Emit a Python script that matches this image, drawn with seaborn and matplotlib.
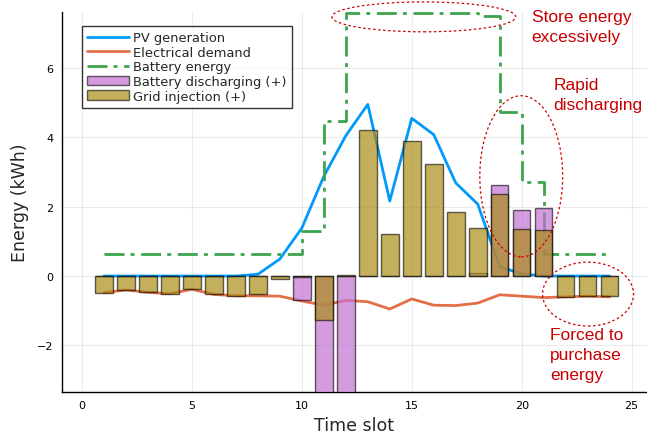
import numpy as np
import pandas as pd
import matplotlib
matplotlib.use("Agg")
import matplotlib.pyplot as plt
from matplotlib.patches import Ellipse
from matplotlib.colors import to_rgb
import seaborn as sns

slots = list(range(1, 25))
pv = [0, 0, 0, 0, 0, 0, 0, 0.05, 0.49, 1.38, 2.87, 4.04, 4.94, 2.16, 4.54, 4.07,
      2.68, 2.07, 0.27, 0.06, 0, 0, 0, 0]
demand = [-0.48, -0.40, -0.47, -0.51, -0.38, -0.53, -0.57, -0.57, -0.58, -0.72, -0.84, -0.70,
          -0.74, -0.95, -0.66, -0.84, -0.85, -0.78, -0.54, -0.58, -0.62, -0.60, -0.58, -0.60]
battery_energy = [0.63, 0.63, 0.63, 0.63, 0.63, 0.63, 0.63, 0.63, 0.63, 1.29, 4.45, 7.57,
                  7.57, 7.57, 7.57, 7.57, 7.57, 7.48, 4.72, 2.71, 0.63, 0.63, 0.63, 0.63]
battery_dis = [0, 0, 0, 0, 0, 0, 0, 0, 0, -0.69, -3.45, -3.40,
               0, 0, 0, 0, 0, 0.08, 2.62, 1.90, 1.96, 0, 0, 0]
grid_inj = [-0.48, -0.40, -0.47, -0.51, -0.38, -0.53, -0.57, -0.52, -0.09, -0.03, -1.27, 0.03,
            4.20, 1.21, 3.88, 3.23, 1.84, 1.39, 2.36, 1.35, 1.33, -0.59, -0.58, -0.58]

df = pd.DataFrame({"slot": slots, "pv": pv, "demand": demand, "bat": battery_energy,
                   "dis": battery_dis, "grid": grid_inj})

sns.set_style("white")
plt.rcParams["font.family"] = ["DejaVu Sans"]

fig = plt.figure(figsize=(6.47, 4.39), dpi=100)
ax = fig.add_axes([62/647, 1-392.7/439, (647-62)/647, (392.7-13)/439])

sns.lineplot(data=df, x="slot", y="pv", ax=ax, color="#009AFA", linewidth=2,
             label="PV generation")
sns.lineplot(data=df, x="slot", y="demand", ax=ax, color="#E36F47", linewidth=2,
             label="Electrical demand")
sns.lineplot(data=df, x="slot", y="bat", ax=ax, color="#3EA44E", linewidth=2,
             drawstyle="steps-post", linestyle=(0, (7.2, 2.2, 1.4, 2.4)),
             label="Battery energy")
sns.barplot(data=df, x="slot", y="dis", ax=ax, native_scale=True, color="#C271D2",
            saturation=1, edgecolor="black", linewidth=1, width=0.8,
            errorbar=None, label="Battery discharging (+)")
n_dis = len(ax.patches)
sns.barplot(data=df, x="slot", y="grid", ax=ax, native_scale=True, color="#AC8D18",
            saturation=1, edgecolor="black", linewidth=1, width=0.8,
            errorbar=None, label="Grid injection (+)")

for i, p in enumerate(ax.patches):
    base = to_rgb("#C271D2") if i < n_dis else to_rgb("#AC8D18")
    p.set_alpha(None)
    p.set_facecolor((*base, 0.7))
    p.set_edgecolor((0, 0, 0, 0.6))
    p.set_zorder(3)

ax.set_xlim(-0.91, 25.7)
ax.set_ylim(-3.33, 7.6)
ax.set_xticks([0, 5, 10, 15, 20, 25])
ax.set_yticks([-2, 0, 2, 4, 6])
ax.set_xticklabels(["0", "5", "10", "15", "20", "25"])
ax.set_yticklabels(["\u22122", "0", "2", "4", "6"])
ax.tick_params(direction="in", length=4, width=0.8, labelsize=8, colors="black", pad=6)
ax.grid(True, color="black", alpha=0.08, linewidth=0.8)
ax.set_axisbelow(True)
for s in ["top", "right"]:
    ax.spines[s].set_visible(False)
for s in ["left", "bottom"]:
    ax.spines[s].set_color("black")
    ax.spines[s].set_linewidth(1)
ax.set_xlabel("Time slot", fontsize=12.5, labelpad=4)
ax.set_ylabel("Energy (kWh)", fontsize=12.5, labelpad=6)

leg = ax.legend(loc="upper left", bbox_to_anchor=(0.034, 0.963), borderaxespad=0,
                fontsize=9.4, frameon=True, fancybox=False, edgecolor="black",
                handlelength=3.2, labelspacing=0.12, borderpad=0.4, handletextpad=0.3)
leg.get_frame().set_linewidth(1)
leg.set_zorder(5)

red = "#C80000"
for (cx, cy, w, h) in [(15.55, 7.46, 8.36, 0.86), (19.98, 2.87, 3.77, 4.64),
                       (23.02, -0.52, 4.14, 1.84)]:
    ax.add_patch(Ellipse((cx, cy), w, h, fill=False, edgecolor=red, linestyle=(0, (2, 2)),
                         linewidth=0.9, clip_on=False, zorder=4))

afont = dict(fontsize=12.5, color=red, family=["Liberation Sans"], ha="left", va="top",
             linespacing=1.4, clip_on=False)
ax.text(20.45, 7.69, "Store energy\nexcessively", **afont)
ax.text(21.45, 5.73, "Rapid\ndischarging", **afont)
ax.text(21.3, -1.47, "Forced to\npurchase\nenergy", **afont)

fig.savefig("out.png", dpi=100)
